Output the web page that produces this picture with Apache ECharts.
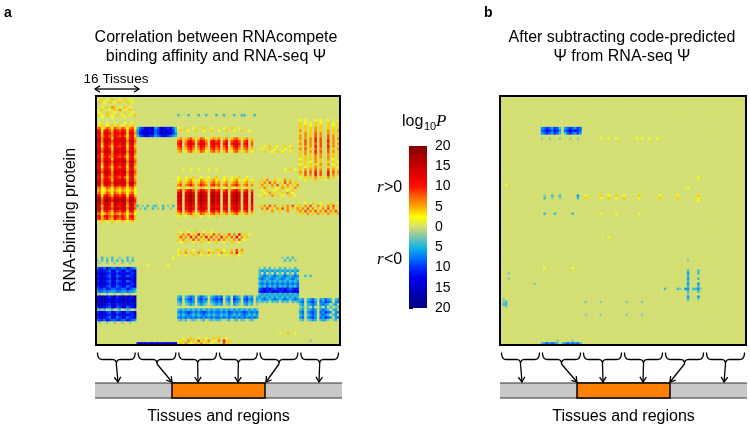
<!DOCTYPE html>
<html><head><meta charset="utf-8">
<script src="https://cdn.jsdelivr.net/npm/echarts@6/dist/echarts.min.js"></script>
<style>html,body{margin:0;padding:0;background:#fff}#c{width:750px;height:429px}</style>
</head><body><div id="c"></div>
<script>
const FONT = '"Liberation Sans", Arial, sans-serif';
const SERIF = '"Liberation Serif", "Times New Roman", serif';

// ---------------- data ----------------
const regionCount = 6;
const tissuesPerRegion = 16;
const rowCount = 96;
// signed log10 P (positive: r>0, negative: r<0)
const levelCodes = {'.':0,'1':2,'2':4,'3':6,'4':8,'5':10,'6':12,'7':14,'8':16,'9':18,
  'a':-2,'b':-4,'c':-6,'d':-8,'e':-10,'f':-12,'g':-14,'h':-16,'i':-18};
const colorbarTickValues = [-20,-15,-10,-5,0,5,10,15,20];
const colorScale = ['#000080','#0000a0','#0000c8','#0000ee','#0030ff','#0078ff','#10b8e0','#80c4b0',
  '#d3df72','#ffff00','#ffa800','#ff6000','#ff1000','#e80000','#c80000','#a80000','#800000'];

// panel a: one string per RBP row, 6 regions x 16 tissues (| separates regions)
const panelARows = [
'',
'1.2.1.2..1.2.1..',
'.2.1.2.1.2..2.1.',
'',
'2.1.2.32.1.2.1..',
'1.2..1.2.3.1.2..',
'.1..2..1...2..1.',
'2.1.2.1.2.1..1.2||b...b...b..b...b|..b...b..bb...b.',
'..1...1....1....',
'|||||1.1...1.1..1...1',
'.1..1..1...1..1.|||||2.1.1.2.1..2.1.2',
'2.2.1.2.2.1.2.2.|||||2.2.1.2.2..2.1.2',
'3412431432431341|bdeggfgcdggfegdb|1..2..1...2..1..|..1..2..1...||2.2.2.3.2..2.2.2',
'5615642654651562|cegggfgdeggggfeb|.2..1..2..1..2..|1..2..1..2..1...||3.2.2.3.2..3.2.3',
'6726753765762673|cfgghggdegghggec||||2.3.2.4.3..3.2.2',
'5625643654641562|bdeffeecdeffedcb||||3.3.2.4.3..4.3.2',
'6736752766762573||23.2342.2431.232|3.23.2342.23.2..||3.3.3.5.4..4.3.3',
'7837864876873784||45.3564.4653.564|5.46.4564.45.3..||2.4.3.5.4..5.3.2',
'6726753765762673||56.4675.5764.675|6.57.5675.56.4..||3.4.3.4.4..4.3.3',
'5615642654651562||45.3564.4653.564|5.46.3564.45.3..|..1.2..1..2.1...|2.3.3.5.4..5.3.2',
'6736752766762573||34.2453.3542.453|4.35.2453.34.2..|.1..2.1...1..2..|3.4.2.4.3..4.2.3',
'7847863876883774||23.1342.2431.342|3.24.1342.23.1..|..2..1.2.1..1...|2.3.3.5.4..4.3.2',
'6726753765762673|||||2.3.2.4.3..3.2.2',
'5625643654641562|||||2.2.2.3.3..3.2.2',
'6736752766762573|||||1.2.2.3.2..3.1.2',
'7837864876873784|||||2.2.1.3.2..2.2.1',
'6726753765762673|||||1.2.2.2.3..3.1.2',
'5615642654651562|||||2.1.2.3.2..2.2.1',
'6736752766762573||..1..1..1...1..1||..........1.2.1.|2.3.3.4.3..4.3.2',
'7847863876883774|||||3.4.4.5.4..5.4.3',
'6726753765762673|||||2.4.3.5.4..5.3.2',
'5625643654641562||1..1..2..1..1..2|..1..1..2..1....||1.2.2.3.2..3.2.1',
'6736752766762573||12.1231.1321.231|2.12.1231.12.1..|.2.3..2.1.3.2...|..1...2...1.....',
'7837864876873784||23.2342.2432.342|3.23.2342.23.2..|2.3.4.3.2.4.3.2.',
'6726753765762673||34.3453.3543.453|4.34.3453.34.3..|.3.2.3.4.2.3.2.3',
'3412431432431341||1.2.1.2..2.1.2.1|2.1.2.1.2.1.2...|2.3..2.1.3.2..3.',
'2311321321321231||45.4564.4654.564|5.45.4564.45.4..|.1.2..1.2..1.2..',
'3412431432431341||67.6786.6876.786|7.67.6786.67.6..|..1.3.2..2.3.1..',
'5615642654651562||78.7897.7987.897|8.78.7897.78.7..|1.2..3.2.1..2.1.',
'7837864876873784||67.6786.6876.786|7.67.6786.67.6..',
'8948975987984895||78.7897.7987.897|8.78.7897.78.7..',
'7847863876883774||67.6786.6876.786|7.67.6786.67.6..||..1..2..1...2..1',
'6726753765762673|b.a.b.ab..b.a.b.|56.5675.5765.675|6.56.5675.56.5..|2.3.4.3..2.3.4.2|2.3.4..3.2.3.4.2',
'7837864876873784|.a.b..b.a.b..a..|67.6786.6876.786|7.67.6786.67.6..|.3.4.2.3.4.3.2.3|.3.4.3.2.3.4.3..',
'5615642654651562||45.4564.4654.564|5.45.4564.45.4..|..2..3..2..3...2|3.4.3.4.3.4.3.4.',
'3412431432431341||23.2342.2432.342|3.23.2342.23.2..||.2.3.2.3.2.3.2.3',
'5625643654641562||1..1..2..1..1..2',
'4524532543542452',
'1.2.1.2.1.2.1.2.',
'',
'',
'',
'||.1..1..2..1..1..',
'||2.3.4.2.5.3.2.4.|3.2.4.3.5.2.1...',
'||.4.3.5.4.3.5.4.3|.5.3.4.6.3.2....',
'||2.3.2.4.3.2.4.3.|4.3.2.3.4.1.....',
'||.1.2..1..2..1..2|..1..2..1.......',
'',
'',
'||1..2..1..2..1..2|2.1..2.4.3......',
'||.2.3.2..3.2.3.2.|.3.2.3.5.2......',
'||1..1..2..1..1...|1..1..2.1.......',
'..b.a.b..a..b.a.|..............1.|||.........a.b.b..',
'b.b.b.b.b.b.b.b.||||..........b.b.a.',
'.a..a..a..a..a..',
'|....1.......1...',
'deedfeddeeddfedc||||a.b.b.a.b.b.a.b.',
'efgfedgfdegfdefg||||bcbcbcbcbcbcbcbc',
'fgggfefgegffgfeg||||b.c.b.c.b.c.b.c.',
'efgfedgfdegfdefg||||bcdcbcdcbcdcbcdc|..b.b...........',
'fghgfegheggfhgfh||||cdcbcdcbcdcbcdcb',
'efgfedgfdegfdefg||||bcbcbcbcbcbcbcbc',
'fgggfefgegffgfeg||||cdcdcdcdcdcdcdcd',
'efgfedgfdegfdefg||||bcbdbcbdbcbdbcbd',
'deedfeddeeddfedc||||defefedefefedefe',
'cddcdcccddccdccb||||efgfefgfefgfefgf',
'.a..a..a..a..a..||||bcbcbcbcbcbcbcbc',
'fghgfegheggfhgfh||bc.bcdc.cdcb.bcd|cd.bc.dcb.cdbc.b|cbcbcbcbcbcbcbcb',
'ghhhgfhgfghhgfhh||cd.cdec.decd.cde|de.cd.edc.decd.c|bcdcbcdcbcdcbcdc|bc.bcdb.cbdcb.bc',
'ghhhgfhgfghhgfhh||bc.bcdc.cdcb.bcd|cd.bc.dcb.cdbc.b|abab.bab.bab.bab|cd.cdec.dcedc.cd',
'fghgfegheggfhgfh||ab.abcb.bcba.abc|bc.ab.cba.bcab.a||bc.bcdc.cdcb.bc.',
'efgfedgfdegfdefg|||||ab.b.c..b.c.b.ab',
'abab.ab.ab.aba.a||bcbcbcbcbcbcbcbc|cbcbcbcbcbcbcbcb||bc.bcdc.cdcb.bc.',
'efgfedgfdegfdefg||cdcdedcdcdedcdcd|dcdcedcdcdedcdcd||cd.cdec.dcedc.cd',
'fgggfefgegffgfeg||bcbcdcbcbcdcbcbc|cbcbdcbcbcdcbcbc||bc.bcdc.cdcb.bc.',
'efgfedgfdegfdefg||cdcdcdcdcdcdcdcd|dcdcdcdcdcdcdcdc||cd.cdec.dcedc.cd',
'deedfeddeeddfedc||abab.aba.ab.abab|ba.ab.ab.ba.ab..||ab.abcb.bcba.ab.',
'.a..a..a..a..a..',
'',
'',
'',
'||||........1..2..1.',
'',
'||..1..2..1..1..2.|2..1............',
'||1.2.3.2.4.2.3.1.|3.5.2...........||....a...........',
'|fgggfggggfggggfg|.2.3.1.2.3.2.1..|..4.2...........'
];

// panel b: sparse rows (row index -> string), other rows are zero
const panelBRows = {
12:'|cdedcedb.cdedced',
13:'|degedfec.degefed',
14:'|cdedcedb.bdedcec',
16:'|a..a...a...a..a.|.......1..1..1..|.....1.1..1..1..',
31:'||||.............1..',
34:'..1.............',
35:'||||.........1......',
38:'|.a..b..b......c.|.1.....2..1..2..|1.....2.......1.|.....1.......2..',
39:'|.b..a..a......b.|.2.....1..2..1..|2.....1.......2.|.....2.......1..',
40:'||||.............1..',
45:'|.b...b......b...|.......1.....1..|......1.........',
54:'||..........1.....',
63:'||||.........a......',
66:'|.1..........1...',
67:'||||.........b...b..',
68:'...a||||.........c...b..',
69:'||||.........b......',
70:'...a||||.........c...b..',
71:'||||.........b......',
72:'.............a||||.........c...c..',
73:'||||.........b...b..',
74:'||||b....ba.cc.bbca.',
75:'||||.........b...b..',
76:'||||.........a......',
77:'||||.........c...c..',
78:'.a||||.........b...a..',
79:'.ab.||.a.....a........|.a.....a........',
80:'.bb.',
81:'..a.',
84:'||.a.....a........|.a.....a........',
94:'|......a.....a...',
95:'|bcdcdcb.bcdcdcdb'
};

// ---------------- build ----------------
const nCols = regionCount * tissuesPerRegion;
function decodeRow(s) {
  const parts = (s || '').split('|');
  let out = '';
  for (let g = 0; g < regionCount; g++) out += (parts[g] || '').padEnd(tissuesPerRegion, '.').slice(0, tissuesPerRegion);
  return out;
}
function buildData(getRow) {
  const d = [];
  for (let r = 0; r < rowCount; r++) {
    const s = decodeRow(getRow(r));
    for (let c = 0; c < nCols; c++) d.push([c, r, levelCodes[s[c]] || 0]);
  }
  return d;
}
const dataA = buildData(r => panelARows[r]);
const dataB = buildData(r => panelBRows[r]);
const colIdx = Array.from({length: nCols}, (_, i) => i);
const rowIdx = Array.from({length: rowCount}, (_, i) => i);

// ---------------- layout ----------------
const PA = {left: 96, top: 96, width: 244, height: 249};
const PB = {left: 500, top: 96, width: 246, height: 249};
const CB = {left: 409, top: 146, width: 18, height: 162};

const G = [];
function txt(x, y, text, font, opt) {
  G.push(Object.assign({type: 'text', x, y, silent: true, z: 50,
    style: {text, font, fill: '#000', textAlign: 'center', align: 'center',
      textVerticalAlign: 'middle', verticalAlign: 'middle'}}, opt || {}));
}
function leftTxt(x, y, t, f) {
  G.push({type: 'text', x, y, silent: true, z: 50, style: {text: t, font: f, fill: '#000', textAlign: 'left', align: 'left', textVerticalAlign: 'middle', verticalAlign: 'middle'}});
}
function head(x1, y1, x2, y2, L) {
  const t = Math.atan2(y2 - y1, x2 - x1), a = Math.PI / 5.5; L = L || 6;
  return [[x2 - L * Math.cos(t - a), y2 - L * Math.sin(t - a)], [x2, y2], [x2 - L * Math.cos(t + a), y2 - L * Math.sin(t + a)]];
}
function arrowLine(x1, y1, x2, y2) {
  G.push({type: 'line', silent: true, z: 50, shape: {x1, y1, x2, y2}, style: {stroke: '#000', lineWidth: 1.3}});
  G.push({type: 'polyline', silent: true, z: 50, shape: {points: head(x1, y1, x2, y2)}, style: {stroke: '#000', lineWidth: 1.3, fill: null}});
}
function quad(p0, p1, p2, pts) {
  for (let i = 1; i <= 8; i++) {
    const t = i / 8, u = 1 - t;
    pts.push([u * u * p0[0] + 2 * u * t * p1[0] + t * t * p2[0], u * u * p0[1] + 2 * u * t * p1[1] + t * t * p2[1]]);
  }
}
function brace(xl, xr, xm, y0, y1, y2) {
  const pts = [[xl, y0]];
  quad([xl, y0], [xl, y1], [xl + 5, y1], pts);
  pts.push([xm - 4, y1]);
  quad([xm - 4, y1], [xm, y1], [xm, y2], pts);
  pts.push([xm, y2]);
  quad([xm, y2], [xm, y1], [xm + 4, y1], pts);
  pts.push([xr - 5, y1]);
  quad([xr - 5, y1], [xr, y1], [xr, y0], pts);
  G.push({type: 'polyline', silent: true, z: 50, shape: {points: pts}, style: {stroke: '#000', lineWidth: 1.3, fill: null}});
}
function schematic(P, barL, barR, orL, orR, targets) {
  const w = P.width / regionCount;
  const y0 = 352.5, y1 = 359.5, y2 = 364;
  for (let g = 0; g < regionCount; g++) {
    const xl = P.left + g * w + 1.5, xr = P.left + (g + 1) * w - 1.5, xm = P.left + (g + 0.5) * w;
    brace(xl, xr, xm, y0, y1, y2);
    arrowLine(xm, y2, targets[g], 382);
  }
  G.push({type: 'rect', silent: true, z: 40, shape: {x: barL, y: 383, width: barR - barL, height: 15}, style: {fill: '#c8c8c8'}});
  G.push({type: 'line', silent: true, z: 41, shape: {x1: barL, y1: 383, x2: barR, y2: 383}, style: {stroke: '#333', lineWidth: 1}});
  G.push({type: 'line', silent: true, z: 41, shape: {x1: barL, y1: 398, x2: barR, y2: 398}, style: {stroke: '#333', lineWidth: 1}});
  G.push({type: 'rect', silent: true, z: 42, shape: {x: orL, y: 383, width: orR - orL, height: 15}, style: {fill: '#ff8000', stroke: '#000', lineWidth: 1.5}});
  txt((barL + barR) / 2, 417, 'Tissues and regions', '16px ' + FONT);
}

// frames
[PA, PB].forEach(P => G.push({type: 'rect', silent: true, z: 60, shape: {x: P.left, y: P.top, width: P.width, height: P.height}, style: {fill: null, stroke: '#000', lineWidth: 2}}));

// colorbar
const stops = colorScale.slice().reverse().map((c, i) => ({offset: i / (colorScale.length - 1), color: c}));
G.push({type: 'rect', silent: true, z: 30, shape: {x: CB.left, y: CB.top, width: CB.width, height: CB.height},
  style: {fill: {type: 'linear', x: 0, y: 0, x2: 0, y2: 1, colorStops: stops}}});

// texts
leftTxt(4, 13, 'a', 'bold 14px ' + FONT);
leftTxt(484, 13, 'b', 'bold 14px ' + FONT);
txt(216, 38, 'Correlation between RNAcompete', '16px ' + FONT);
txt(216, 57, 'binding affinity and RNA-seq \u03A8', '16px ' + FONT);
txt(622, 38, 'After subtracting code-predicted', '16px ' + FONT);
txt(622, 57, '\u03A8 from RNA-seq \u03A8', '16px ' + FONT);
txt(116, 79, '16 Tissues', '13.5px ' + FONT);
arrowLine(117, 89, 139, 89); arrowLine(117, 89, 95, 89);
txt(71, 220, 'RNA-binding protein', '16px ' + FONT, {rotation: Math.PI / 2});
leftTxt(402, 122, 'log', '16px ' + FONT);
leftTxt(424, 127, '10', '11px ' + FONT);
leftTxt(436, 122, 'P', 'italic 17px ' + SERIF);
leftTxt(377, 188, 'r', 'italic 17px ' + SERIF);
leftTxt(384, 188, '>0', '16px ' + FONT);
leftTxt(377, 260, 'r', 'italic 17px ' + SERIF);
leftTxt(384, 260, '<0', '16px ' + FONT);

schematic(PA, 95, 342, 172, 265, [118, 172, 198, 238, 266, 319]);
schematic(PB, 500, 747, 577, 670, [522, 577, 603, 643, 670, 724]);

// ---------------- chart ----------------
const chart = echarts.init(document.getElementById('c'));
chart.setOption({
  animation: false,
  backgroundColor: '#fff',
  grid: [
    Object.assign({}, PA),
    Object.assign({}, PB),
    Object.assign({}, CB)
  ],
  xAxis: [
    {gridIndex: 0, type: 'category', data: colIdx, show: false},
    {gridIndex: 1, type: 'category', data: colIdx, show: false},
    {gridIndex: 2, type: 'value', min: 0, max: 1, show: false}
  ],
  yAxis: [
    {gridIndex: 0, type: 'category', data: rowIdx, inverse: true, show: false},
    {gridIndex: 1, type: 'category', data: rowIdx, inverse: true, show: false},
    {gridIndex: 2, type: 'value', min: colorbarTickValues[0], max: colorbarTickValues[colorbarTickValues.length - 1],
      interval: 5, position: 'right',
      axisLine: {show: false}, splitLine: {show: false},
      axisTick: {show: true, length: 4, lineStyle: {color: '#000', width: 1}},
      axisLabel: {formatter: v => String(Math.abs(v)), color: '#000', fontSize: 14, fontFamily: FONT, margin: 8}}
  ],
  visualMap: {type: 'continuous', show: false, min: -20, max: 20, seriesIndex: [0, 1], inRange: {color: colorScale}},
  series: [
    {type: 'heatmap', xAxisIndex: 0, yAxisIndex: 0, data: dataA, progressive: 0, emphasis: {disabled: true}, itemStyle: {borderWidth: 0}},
    {type: 'heatmap', xAxisIndex: 1, yAxisIndex: 1, data: dataB, progressive: 0, emphasis: {disabled: true}, itemStyle: {borderWidth: 0}}
  ],
  graphic: G
});
</script></body></html>
